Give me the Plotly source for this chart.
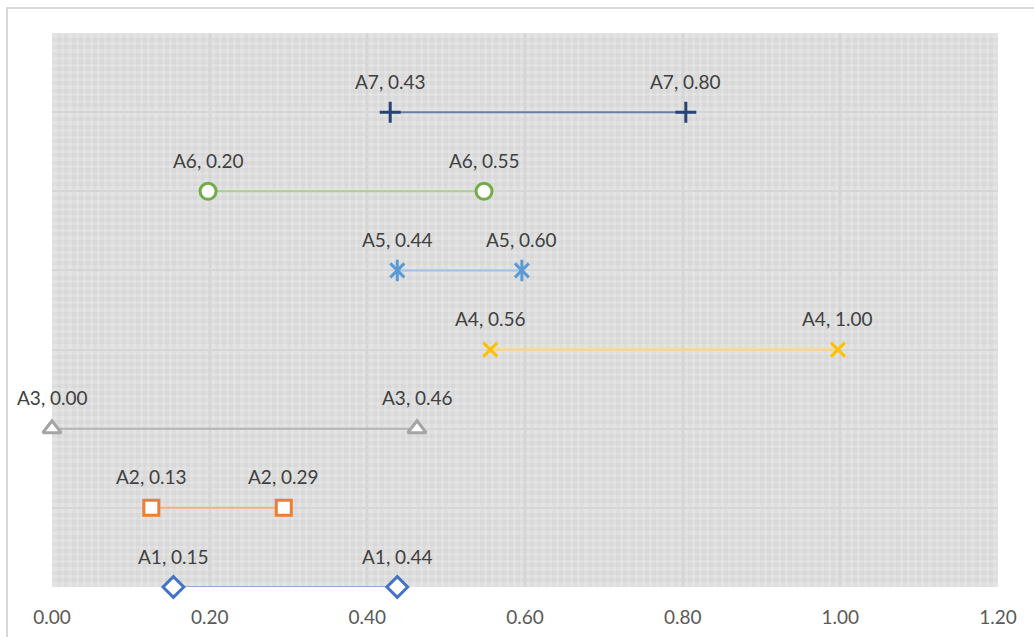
import plotly.graph_objects as go

names = ["A1", "A2", "A3", "A4", "A5", "A6", "A7"]
starts = [0.154, 0.126, 0.000, 0.556, 0.438, 0.198, 0.429]
ends = [0.438, 0.294, 0.463, 0.997, 0.596, 0.548, 0.804]
levels = [1, 2, 3, 4, 5, 6, 7]
x_ticks = [0.0, 0.2, 0.4, 0.6, 0.8, 1.0, 1.2]

marker_colors = ["#4472C4", "#ED7D31", "#A5A5A5", "#FFC000", "#5B9BD5", "#70AD47", "#264478"]
line_colors = ["#8FAADC", "#F4B183", "#B4B4B4", "#FFD966", "#9DC3E6", "#A9D18E", "#6A7FA8"]
symbols = [["diamond"], ["square"], ["triangle-up"], ["x-thin"], ["x-thin", "line-ns"],
           ["circle"], ["cross-thin"]]
sizes = [16, 15, 16, 14, 14, 16, 15]

FONT = "Lato"

fig = go.Figure()
annotations = []
for i, n in enumerate(names):
    xs = [starts[i], ends[i]]
    ys = [levels[i], levels[i]]
    fig.add_trace(go.Scatter(
        x=xs, y=ys, mode="lines", line=dict(color=line_colors[i], width=2),
        showlegend=False, hoverinfo="skip", cliponaxis=False))
    for sym in symbols[i]:
        open_sym = sym in ("diamond", "square", "triangle-up", "circle")
        fig.add_trace(go.Scatter(
            x=xs, y=ys, mode="markers",
            marker=dict(symbol=sym, size=sizes[i] if sym != "line-ns" else sizes[i] * 1.1,
                        color="white" if open_sym else marker_colors[i],
                        line=dict(color=marker_colors[i], width=3)),
            showlegend=False, cliponaxis=False, name=n))
    for v in xs:
        annotations.append(dict(
            x=v, y=levels[i], xref="x", yref="y", text=f"{n}, {v:.2f}",
            showarrow=False, yshift=31,
            font=dict(family=FONT, size=19, color="#404040")))

border = [dict(
    type="rect", xref="paper", yref="paper",
    x0=(7 - 52) / 946, x1=(1040 - 52) / 946,
    y0=(587 - 645) / 554, y1=(587 - 8) / 554,
    line=dict(color="#D9D9D9", width=2), fillcolor="rgba(0,0,0,0)", layer="below")]

fig.update_layout(
    width=1034, height=637,
    margin=dict(l=52, r=36, t=33, b=50),
    paper_bgcolor="white", plot_bgcolor="#E4E4E4",
    annotations=annotations, shapes=border,
    xaxis=dict(range=[0, 1.2], tickvals=x_ticks, tickformat=".2f",
               showgrid=True, gridcolor="#D6D6D6", gridwidth=1.5,
               zeroline=False, showline=False, ticks="",
               ticklabelstandoff=17, automargin=False,
               tickfont=dict(family=FONT, size=19, color="#595959"),
               minor=dict(dtick=0.2 / 22, showgrid=True,
                          gridcolor="rgba(0,0,0,0.025)", gridwidth=3.6)),
    yaxis=dict(range=[1, 8], dtick=1, showticklabels=False,
               showgrid=True, gridcolor="#D6D6D6", gridwidth=1.5,
               zeroline=False, showline=False, ticks="", automargin=False,
               minor=dict(dtick=1 / 11, showgrid=True,
                          gridcolor="rgba(0,0,0,0.025)", gridwidth=3.6)),
)

fig.write_html("out.html", config={"displayModeBar": False},
               post_script="document.body.style.margin='0px';")
